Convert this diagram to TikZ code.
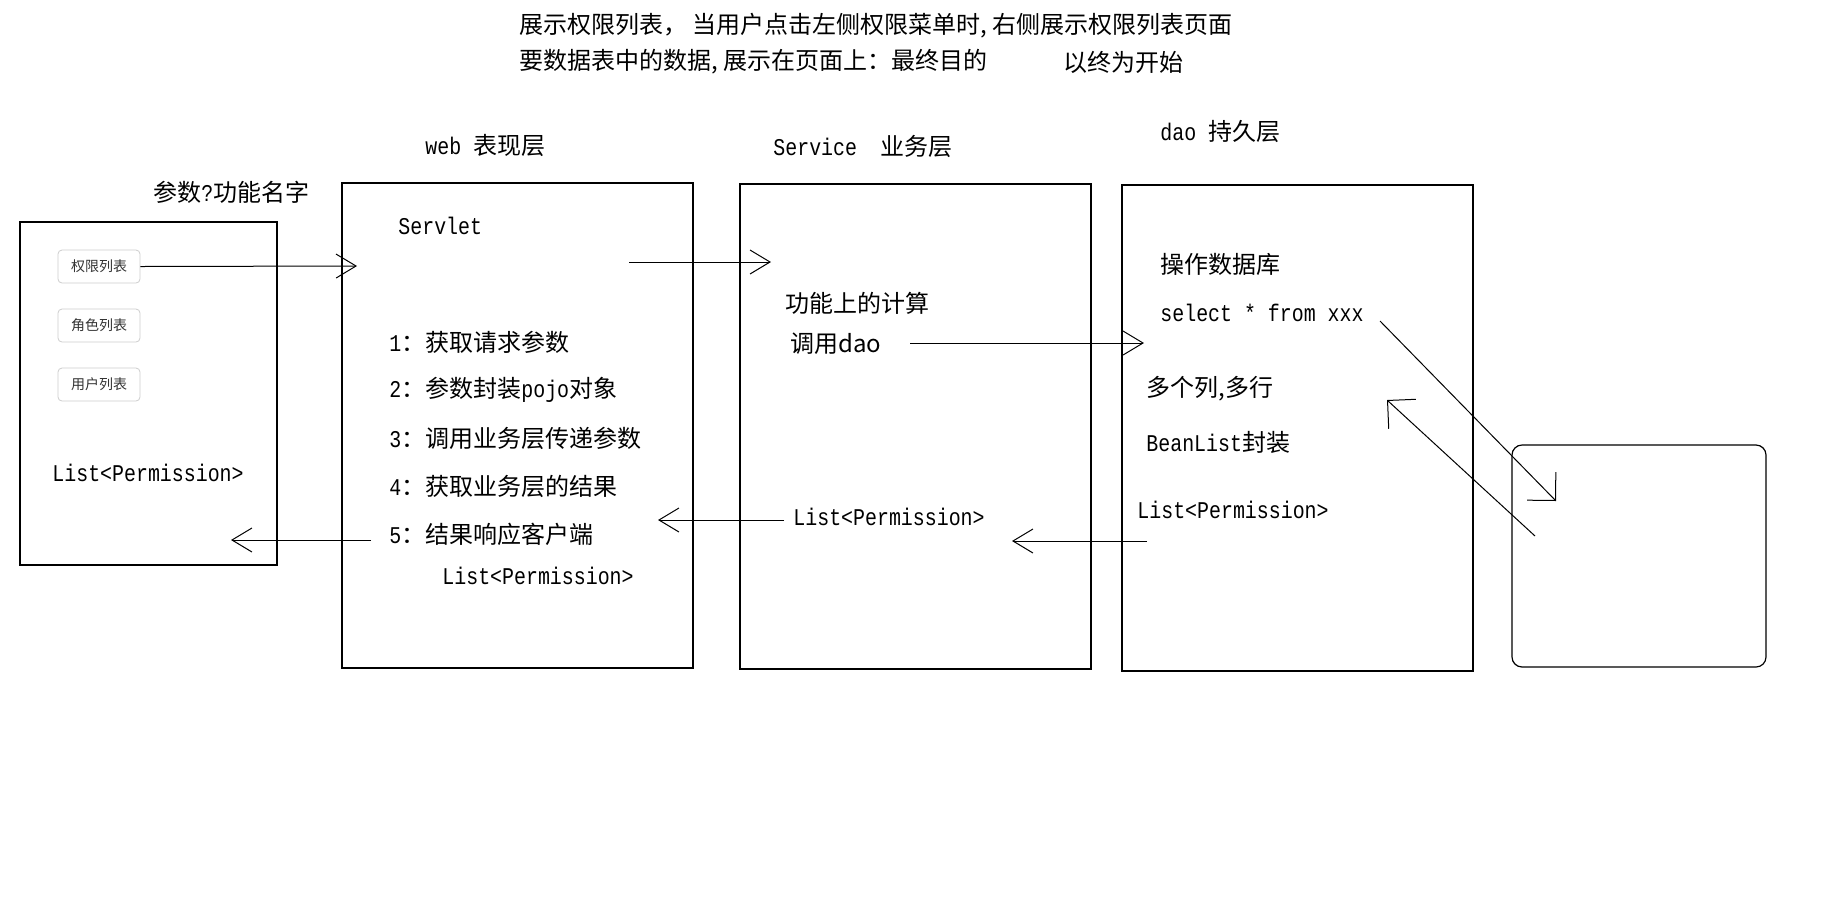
\documentclass[tikz,border=0pt]{standalone}
\usepackage{fontspec}
\setmainfont{Noto Sans CJK SC}
\setmonofont{Liberation Mono}[FakeStretch=0.83]
\usetikzlibrary{arrows.meta}
\definecolor{ink}{HTML}{000000}
\definecolor{btnline}{HTML}{CDCDCD}
\definecolor{btntext}{HTML}{333333}

\begin{document}
\begin{tikzpicture}[
  x=0.5pt,y=-0.5pt,
  font=\fontsize{12pt}{14pt}\selectfont,
  >={Straight Barb[length=10pt,width=12pt]},
  layer/.style={draw=ink,line width=0.6pt,anchor=north west,inner sep=0pt,outer sep=0pt},
  btn/.style={draw=btnline,fill=white,rounded corners=2pt,minimum width=41pt,minimum height=16.5pt,inner sep=0pt,text=btntext,font=\fontsize{7pt}{8pt}\selectfont},
  txt/.style={anchor=west,inner sep=0pt},
  wire/.style={draw=ink,line width=0.5pt,->},
  slant/.style={wire,>={Straight Barb[length=10pt,width=20pt]}}
]
\useasboundingbox (0,0) rectangle (1848,912);
% --- goal ---------------------------------------------------------------
\node[txt] (title1) at (519,26) {展示权限列表， 当用户点击左侧权限菜单时, 右侧展示权限列表页面};
\node[txt] (title2) at (519,62) {要数据表中的数据, 展示在页面上：最终目的};
\node[txt] (goal) at (1063,62) {以终为开始};
% --- client page --------------------------------------------------------
\node[layer,minimum width=128.5pt,minimum height=171.5pt] (page) at (20,222) {};
\node[txt] (paramhd) at (153,192) {参数\texttt{?}功能名字};
\foreach \t/\n [count=\k] in {权限列表/perm,角色列表/role,用户列表/user}
  \node[btn] (btn\n) at (99,{266.5+59*(\k-1)}) {\t};
\node[txt] (leftlist) at (52,473) {\texttt{List<Permission>}};
% --- web layer ----------------------------------------------------------
\node[layer,minimum width=175.5pt,minimum height=242.5pt] (web) at (342,183) {};
\node[txt] (webhd) at (425,145) {\texttt{web\ }表现层};
\node[txt] (servlet) at (398,226) {\texttt{Servlet}};
\foreach \t [count=\k] in {获取请求参数,参数封装\texttt{pojo}对象,调用业务层传递参数,获取业务层的结果,结果响应客户端}
  \node[txt] (step\k) at (389,{342+48*(\k-1)}) {\texttt{\k}：\t};
\node[txt] (weblist) at (442,576) {\texttt{List<Permission>}};
% --- service layer ------------------------------------------------------
\node[layer,minimum width=175.5pt,minimum height=242.5pt] (srv) at (740,184) {};
\node[txt] (srvhd) at (773,146) {\texttt{Service\ \ }业务层};
\node[txt] (calc) at (785,303) {功能上的计算};
\node[txt] (calldao) at (790,344) {调用dao};
\node[txt] (srvlist) at (793,517) {\texttt{List<Permission>}};
% --- dao layer ----------------------------------------------------------
\node[layer,minimum width=175.5pt,minimum height=243pt] (dao) at (1122,185) {};
\node[txt] (daohd) at (1160,131) {\texttt{dao\ }持久层};
\node[txt] (opdb) at (1160,264) {操作数据库};
\node[txt] (sql) at (1160,313) {\texttt{select * from xxx}};
\node[txt] (rows) at (1146,389) {多个列,多行};
\node[txt] (beanlist) at (1146,442) {\texttt{BeanList}封装};
\node[txt] (daolist) at (1137,510) {\texttt{List<Permission>}};
% --- database -----------------------------------------------------------
\node[layer,rounded corners=5pt,minimum width=127pt,minimum height=111pt] (db) at (1512,445) {};
% --- calls and results --------------------------------------------------
\coordinate (webin) at (357,266);
\coordinate (webtx) at (629,262);   \coordinate (srvin) at (771,262);
\coordinate (srvtx) at (910,343);   \coordinate (daoin) at (1144,343);
\coordinate (sqlout) at (1380,321); \coordinate (dbin) at (1556,501);
\coordinate (dbout) at (1535,536);  \coordinate (rowsin) at (1387,400);
\coordinate (daoout) at (1147,541); \coordinate (srvback) at (1012,541);
\coordinate (srvout) at (784,520);  \coordinate (webback) at (658,520);
\coordinate (webout) at (371,540);  \coordinate (pagein) at (231,540);
\draw[wire] (btnperm.east) -- (webin);
\draw[wire] (webtx) -- (srvin);
\draw[wire] (srvtx) -- (daoin);
\draw[slant] (sqlout) -- (dbin);
\draw[slant] (dbout) -- (rowsin);
\draw[wire] (daoout) -- (srvback);
\draw[wire] (srvout) -- (webback);
\draw[wire] (webout) -- (pagein);
\end{tikzpicture}
\end{document}
